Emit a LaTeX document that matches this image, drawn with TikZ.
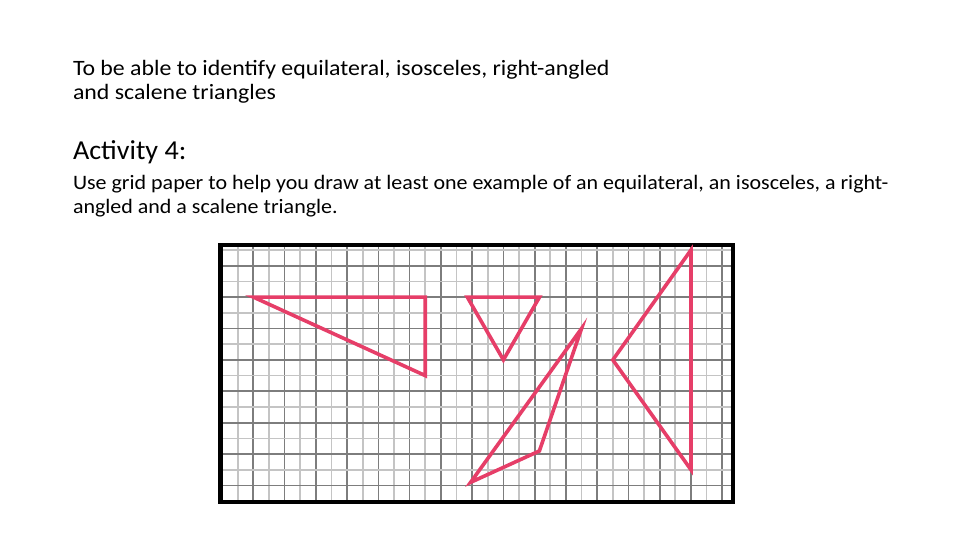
\documentclass[tikz,border=0pt]{standalone}
\usepackage{fontspec}
\setmainfont{Carlito}
\definecolor{tri}{RGB}{230,62,104}
\definecolor{gridA}{RGB}{196,196,196}
\definecolor{gridB}{RGB}{125,125,125}
\begin{document}
\begin{tikzpicture}[x=1bp,y=-1bp,
  txt/.style={anchor=base west,inner sep=0pt,outer sep=0pt},
  tristyle/.style={draw=tri,line width=3.6bp,line join=miter},
  frame/.style={draw=black,line width=4.3bp}]
\useasboundingbox[fill=white] (0,0) rectangle (960,540);
% texts
\node[txt,font=\fontsize{22}{24}\selectfont] (t1) at (73,75.7) {\scalebox{1.087}[1]{To be able to identify equilateral, isosceles, right-angled}};
\node[txt,font=\fontsize{22}{24}\selectfont] (t2) at (73,99.3) {\scalebox{1.087}[1]{and scalene triangles}};
\node[txt,font=\fontsize{27.5}{30}\selectfont] (t3) at (73,160) {\scalebox{1.027}[1]{Activity 4:}};
\node[txt,font=\fontsize{20.6}{24}\selectfont] (t4) at (73,189.5) {\scalebox{1.071}[1]{Use grid paper to help you draw at least one example of an equilateral, an isosceles, a right-}};
\node[txt,font=\fontsize{20.6}{24}\selectfont] (t5) at (73,213.5) {\scalebox{1.071}[1]{angled and a scalene triangle.}};
% grid
\foreach \k in {0,...,31}{
  \pgfmathsetmacro{\xx}{237.7+\k*15.63}
  \pgfmathtruncatemacro{\pty}{mod(\k,2)}
  \ifnum\pty=0 \def\gc{gridA}\else\def\gc{gridB}\fi
  \draw[\gc,line width=1.7bp] (\xx,245.3) -- (\xx,501.7);
}
\foreach \j in {0,...,15}{
  \pgfmathsetmacro{\yy}{250+\j*15.7}
  \pgfmathtruncatemacro{\pty}{mod(\j,2)}
  \ifnum\pty=0 \def\gc{gridA}\else\def\gc{gridB}\fi
  \draw[\gc,line width=1.7bp] (220.5,\yy) -- (732.8,\yy);
}
\draw[frame] (220.5,245.2) rectangle (732.8,501.7);
% triangles in grid units
\begin{scope}[shift={(237.7,250)},x=15.63bp,y=-15.7bp]
  \coordinate (r1) at (1,3); \coordinate (r2) at (12,3); \coordinate (r3) at (12,8);
  \draw[tristyle] (r1) -- (r2) -- (r3) -- cycle;
  \coordinate (e1) at (14.69,3); \coordinate (e2) at (19.31,3); \coordinate (e3) at (17,7);
  \draw[tristyle] (e1) -- (e2) -- (e3) -- cycle;
  \coordinate (s1) at (22,5); \coordinate (s2) at (19.3,12.8); \coordinate (s3) at (14.9,14.8);
  \draw[tristyle] (s1) -- (s2) -- (s3) -- cycle;
  \coordinate (i1) at (29,0); \coordinate (i2) at (29,14); \coordinate (i3) at (24,7);
  \draw[tristyle] (i1) -- (i2) -- (i3) -- cycle;
\end{scope}
\end{tikzpicture}
\end{document}
